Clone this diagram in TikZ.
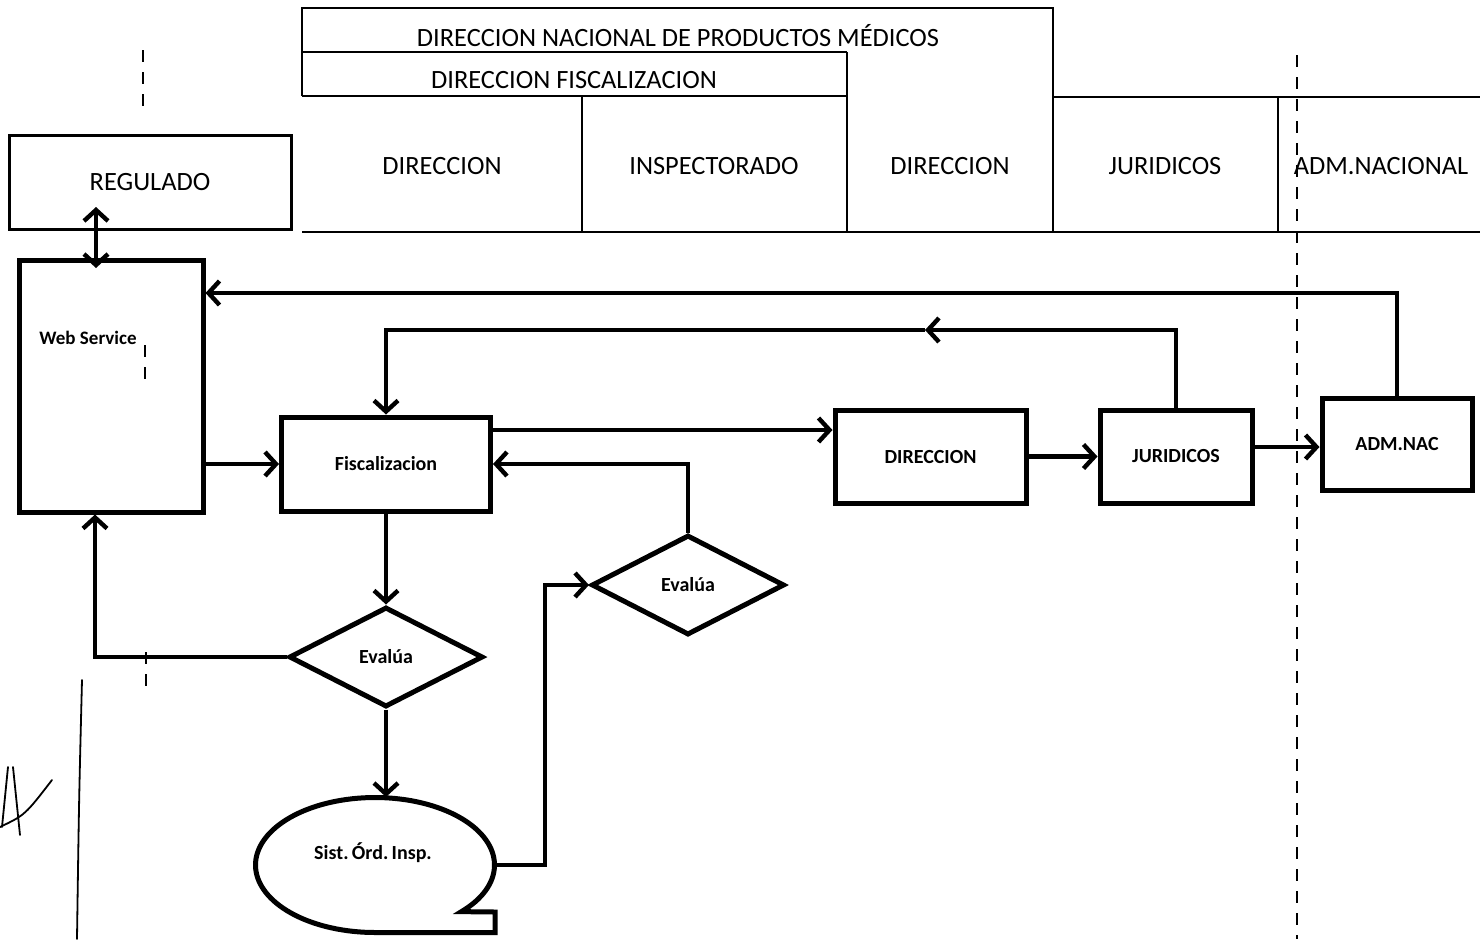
\documentclass[tikz,border=0pt]{standalone}
\usepackage{fontspec}
\setmainfont{Carlito}
\usetikzlibrary{arrows.meta,shapes.geometric}
\begin{document}
\begin{tikzpicture}[x=0.5pt,y=-0.5pt,
  hdr/.style={font=\fontsize{13.2}{15}\selectfont, inner sep=0pt},
  lane/.style={line width=1.2pt},
  box/.style={draw, line width=2.5pt, rectangle, inner sep=0pt, font=\bfseries\fontsize{10}{12}\selectfont},
  dia/.style={draw, line width=2.5pt, diamond, inner sep=0pt, font=\bfseries\fontsize{10}{12}\selectfont},
  conn/.style={line width=2.2pt, -{Straight Barb[length=5.5pt,width=12pt]}},
  both/.style={line width=2.2pt, {Straight Barb[length=5.5pt,width=12pt]}-{Straight Barb[length=5.5pt,width=12pt]}},
  scan/.style={line width=0.8pt, dash pattern=on 6pt off 5pt},
  ink/.style={line width=0.9pt, line cap=round},
]
\useasboundingbox (0,0) rectangle (1480,939);
\fill[white] (0,0) rectangle (1480,939);

% header table
\draw[lane] (302,96) -- (302,8) -- (1053,8) -- (1053,232);
\draw[lane] (302,52) -- (847,52);
\draw[lane] (302,96) -- (847,96);
\draw[lane] (847,52) -- (847,232);
\draw[line width=0.7pt] (582,96) -- (582,232);
\draw[lane] (1053,97) -- (1480,97);
\draw[lane] (1278,97) -- (1278,232);
\draw[lane] (302,232) -- (1480,232);

\node[hdr] (h1) at (678,36) {DIRECCION NACIONAL DE PRODUCTOS MÉDICOS};
\node[hdr] (h2) at (574,80) {DIRECCION FISCALIZACION};
\node[hdr] (h3) at (442,166) {DIRECCION};
\node[hdr] (h4) at (714,166) {INSPECTORADO};
\node[hdr] (h5) at (950,166) {DIRECCION};
\node[hdr] (h6) at (1165,166) {JURIDICOS};
\node[hdr] (h7) at (1381,166) {ADM.NACIONAL};

% scan marks / lane guides
\draw[scan] (1297,55) -- (1297,939);
\draw[scan] (143,50) -- (143,110);
\draw[scan] (145,345) -- (145,385);
\draw[scan] (146,652) -- (146,692);
\draw[ink] (82,680) .. controls (79,800) .. (77,939);
\draw[ink] (13,767) -- (20,835);
\draw[ink] (8,767) -- (2,827);
\draw[ink] (0,827) .. controls (25,815) .. (52,780);

% nodes
\node[draw, line width=1.5pt, minimum width=141pt, minimum height=47pt, inner sep=0pt, hdr] (reg) at (150,182) {REGULADO};
\node[box, minimum width=92pt, minimum height=126pt] (webs) at (111,386) {};
\node[font=\bfseries\fontsize{9.5}{11}\selectfont, inner sep=0pt] (wslabel) at (88,338) {Web Service};
\node[box, minimum width=104.5pt, minimum height=47pt] (fisc) at (386,464) {Fiscalizacion};
\node[box, minimum width=95.5pt, minimum height=46.5pt] (dir) at (930.5,456.5) {DIRECCION};
\node[box, minimum width=76pt, minimum height=46.5pt] (jur) at (1176,456.5) {JURIDICOS};
\node[box, minimum width=75pt, minimum height=46pt] (admnac) at (1397,444) {ADM.NAC};
\node[dia, minimum width=97pt, minimum height=50pt] (ev1) at (386,657) {Evalúa};
\node[dia, minimum width=96.5pt, minimum height=50pt] (ev2) at (688,585) {Evalúa};
\node[ellipse, minimum width=119.5pt, minimum height=67.5pt, inner sep=0pt] (sist) at (375,865) {};
\node[font=\bfseries\fontsize{10}{12}\selectfont, inner sep=0pt] (sistlabel) at (373,853) {Sist.\,Órd.\,Insp.};
\draw[line width=2.5pt, line join=miter] plot[domain=90:403.7, samples=120] ({375+119.5*cos(\x)},{865+67.5*sin(\x)}) -- (495,912) -- (495,932.5) -- cycle;

% helper coordinates
\coordinate (yA) at (0,293);
\coordinate (m3) at (925,330);
\coordinate (yB) at (0,430);
\coordinate (yC) at (0,447);
\coordinate (xD) at (95,0);
\coordinate (xE) at (545,0);
\coordinate (regin) at (96,207);
\coordinate (wsin) at (96,268);
\coordinate (sistin) at (386,797);

% connectors
\draw[both] (regin) -- (wsin);
\draw[conn] (admnac.north) |- (webs.east |- yA);
\draw[conn] (jur.north) |- (m3);
\draw[conn] (m3) -| (fisc.north);
\draw[conn] (webs.east |- fisc.west) -- (fisc.west);
\draw[conn] (fisc.east |- yB) -- (dir.west |- yB);
\draw[conn] (ev2.north) |- (fisc.east);
\draw[conn] (dir.east) -- (jur.west);
\draw[conn] (jur.east |- yC) -- (admnac.west |- yC);
\draw[conn] (fisc.south) -- (ev1.north);
\draw[conn] (ev1.west) -| (webs.south -| xD);
\draw[conn] (ev1.south) -- (sistin);
\draw[conn] (sist.east) -| (xE |- ev2.west) -- (ev2.west);
\end{tikzpicture}
\end{document}
